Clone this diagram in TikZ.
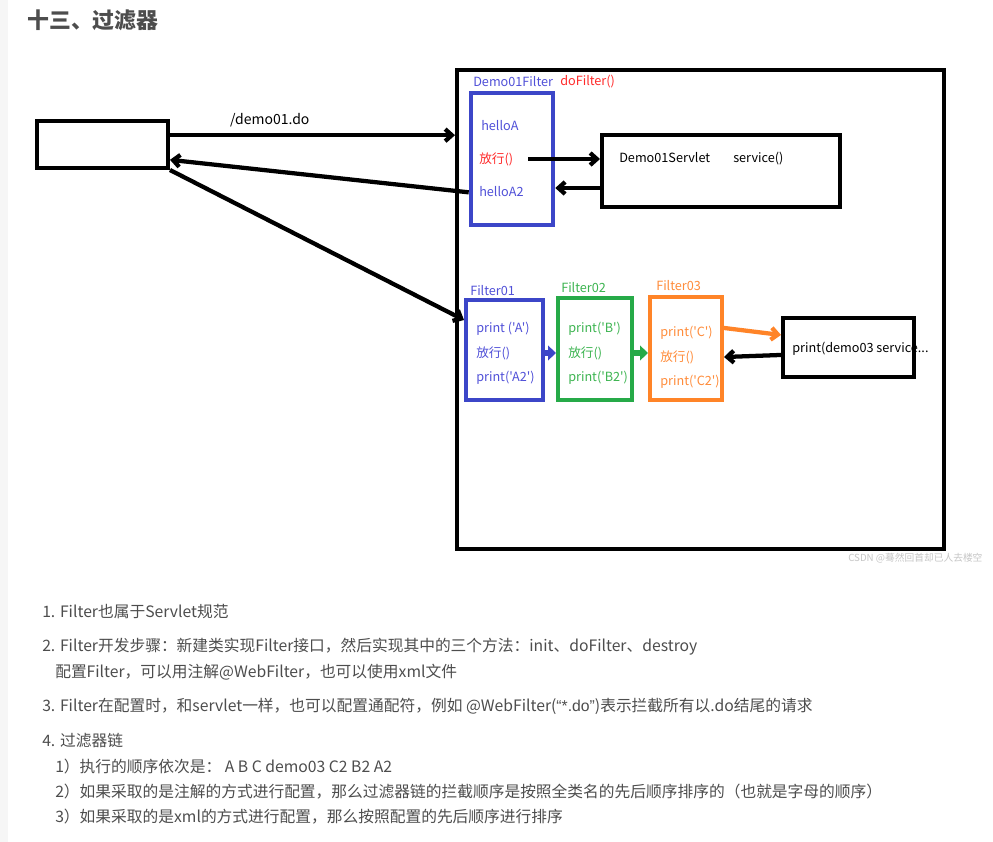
\documentclass[tikz,border=0pt]{standalone}
\usepackage{fontspec}
\setmainfont{Noto Sans CJK SC}[Ligatures=TeXOff]
\newfontfamily\latin{Liberation Sans}
\usetikzlibrary{arrows.meta}
\definecolor{txtgray}{HTML}{4D4D4D}
\definecolor{fblue}{HTML}{3C46C8}
\definecolor{tblue}{HTML}{5050D8}
\definecolor{fred}{HTML}{FF2A2A}
\definecolor{fgreen}{HTML}{26AA48}
\definecolor{tgreen}{HTML}{3CB450}
\definecolor{forange}{HTML}{FF8428}
\definecolor{torange}{HTML}{FF8C3A}

\begin{document}
\begin{tikzpicture}[x=0.75pt, y=-0.75pt, every node/.style={font=\fontsize{9.5}{11}\selectfont}, box/.style={draw, line width=3pt, inner sep=0pt}, arrow/.style={-{Straight Barb[length=5pt,width=9pt]}, line width=3.2pt}, fat/.style={-{Triangle[length=6pt,width=11pt]}, line width=4.5pt}, txt/.style={anchor=west, inner sep=0pt}, item/.style={anchor=west, inner sep=0pt, text=txtgray, font=\fontsize{11.8}{13}\selectfont}]
    \useasboundingbox (0,0) rectangle (993,842);
    \fill[white] (0,0) rectangle (993,842);
    \fill[gray!7] (0,0) rectangle (8,842);
    \node[txt, text=txtgray, font=\fontsize{16.4}{19}\selectfont\bfseries] (title) at (27,20) {十三、过滤器};

    \node[box, minimum width=98.25pt, minimum height=35.25pt] (client) at (102.5,144.5) {};
    \node[box, minimum width=365.25pt, minimum height=359.25pt] (container) at (700.5,309.5) {};
    \node[box, draw=fblue, line width=3.4pt, minimum width=61.5pt, minimum height=99pt] (demofilter) at (512,159) {};
    \node[box, minimum width=178.5pt, minimum height=54pt] (servlet) at (721,171) {};
    \node[txt, text=tblue] (dflabel) at (473,82) {Demo01Filter};
    \node[txt, text=fred] (dofilter) at (560,82) {doFilter()};
    \node[txt, text=tblue] (helloa) at (481,126) {helloA};
    \node[txt, text=fred] (pass) at (479,159) {放行()};
    \node[txt, text=tblue] (helloatwo) at (479,192) {helloA2};
    \node[txt] (servname) at (619,158) {Demo01Servlet};
    \node[txt] (service) at (733,159) {service()};

    \node[box, draw=fblue, minimum width=57.75pt, minimum height=75pt] (fone) at (504.5,350) {};
    \node[box, draw=fgreen, minimum width=55.5pt, minimum height=76.5pt] (ftwo) at (595,349) {};
    \node[box, draw=forange, minimum width=54pt, minimum height=77.25pt] (fthree) at (686,348.5) {};
    \node[box, minimum width=98.25pt, minimum height=44.25pt] (servthree) at (848.5,347.5) {};
    \node[txt, text=tblue] (fonelabel) at (470,291) {Filter01};
    \node[txt, text=tgreen] (ftwolabel) at (561,288) {Filter02};
    \node[txt, text=torange] (fthreelabel) at (656,286) {Filter03};
    \node[txt, text=tblue] (pa) at (476,329) {print ('A')};
    \node[txt, text=tblue] (passa) at (476,353) {放行()};
    \node[txt, text=tblue] (patwo) at (476,378) {print('A2')};
    \node[txt, text=tgreen] (pb) at (568,329) {print('B')};
    \node[txt, text=tgreen] (passb) at (568,353) {放行()};
    \node[txt, text=tgreen] (pbtwo) at (568,378) {print('B2')};
    \node[txt, text=torange] (pc) at (660,333) {print('C')};
    \node[txt, text=torange] (passc) at (660,357) {放行()};
    \node[txt, text=torange] (pctwo) at (660,382) {print('C2')};
    \node[txt] (demothree) at (792,349) {print(demo03 service...};

    \draw[arrow] ([yshift=7pt]client.east) -- ([yshift=7pt]client.east -| container.west) node[pos=0.35, above=1pt, font=\fontsize{10.5}{12}\selectfont] {/demo01.do};
    \draw[arrow] ([yshift=-25pt]demofilter.west) -- ([yshift=-11.5pt]client.east);
    \draw[arrow] (client.south east) -- ([yshift=22.5pt]fone.west);
    \draw[arrow] ([xshift=11pt]pass.east) -- (servlet.west |- pass.east);
    \draw[arrow] ([yshift=-12.75pt]servlet.west) -- ([yshift=-12.75pt]servlet.west -| demofilter.east);
    \draw[fat, fblue] (fone.east |- passa) -- (ftwo.west |- passa);
    \draw[fat, fgreen] (ftwo.east |- passb) -- (fthree.west |- passb);
    \draw[arrow, forange] ([yshift=15.4pt]fthree.east) -- ([yshift=9.4pt]servthree.west);
    \draw[arrow] ([yshift=-5.6pt]servthree.west) -- ([yshift=-6.4pt]fthree.east);
    \node[txt, text=gray!45, font=\fontsize{7.3}{9}\selectfont] (mark) at (848,558) {CSDN @蓦然回首却已人去楼空};

    \node[item] (itemone) at (42,612) {1. Filter也属于Servlet规范};
    \node[item] (itemtwo) at (42,647) {2. Filter开发步骤：新建类实现Filter接口，然后实现其中的三个方法：init、doFilter、destroy};
    \node[item] (itemtwob) at (55,672) {配置Filter，可以用注解@WebFilter，也可以使用xml文件};
    \node[item] (itemthree) at (42,706) {3. Filter在配置时，和servlet一样，也可以配置通配符，例如 @WebFilter({\latin “*.do”})表示拦截所有以.do结尾的请求};
    \node[item] (itemfour) at (42,741) {4. 过滤器链};
    \node[item] (subone) at (55,767) {1）执行的顺序依次是： A B C demo03 C2 B2 A2};
    \node[item] (subtwo) at (55,792) {2）如果采取的是注解的方式进行配置，那么过滤器链的拦截顺序是按照全类名的先后顺序排序的（也就是字母的顺序）};
    \node[item] (subthree) at (55,817) {3）如果采取的是xml的方式进行配置，那么按照配置的先后顺序进行排序};
\end{tikzpicture}
\end{document}
